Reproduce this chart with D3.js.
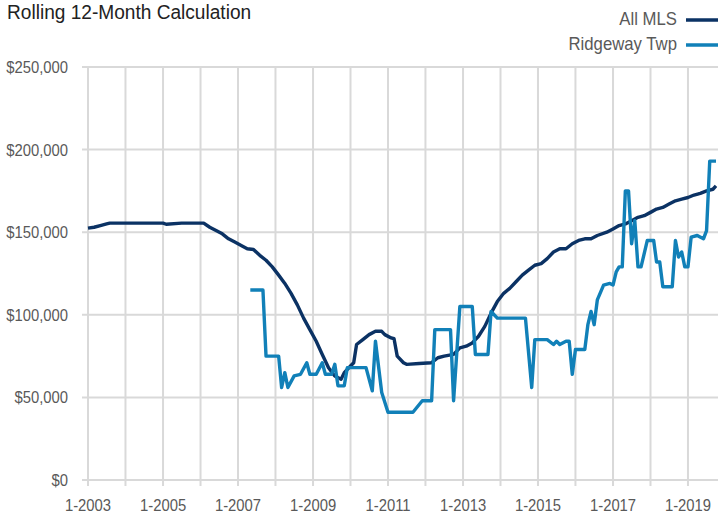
<!DOCTYPE html>
<html><head><meta charset="utf-8">
<script src="https://cdn.jsdelivr.net/npm/d3@7"></script>
<style>
html,body{margin:0;padding:0;background:#fff;}
svg{display:block;}
text{font-family:"Liberation Sans",Arial,Helvetica,sans-serif;}
</style></head>
<body>
<svg id="chart" width="718" height="515"></svg>
<script>
// ---- data (month index from Jan 2003, value in $) ----
const mlsMonths = [0,2,4,6,7,12,18,24,25,30,36,37,39,41,43,45,47,49,51,53,55,57,59,61,63,65,67,69,71,73,75,77,79,81,82,84,85,86,88,90,92,94,95,97,98,99,101,102,106,110,112,114,117,119,121,123,125,127,129,131,133,135,137,139,141,143,145,147,149,151,153,155,157,159,161,163,166,168,170,172,174,176,178,180,182,184,186,188,190,192,194,196,198,200,201];
const mlsValues = [152500,153000,154000,155000,155500,155500,155500,155500,154800,155500,155500,155500,153000,151000,149000,146000,144000,142000,140000,139500,136000,133000,129000,124000,119000,113000,106000,98000,91000,84000,76000,68000,63000,61000,65000,69000,71000,82000,85000,88000,90000,90000,88000,86000,85500,75000,71000,70000,70500,71000,74000,75000,76000,80000,81000,83000,87000,93000,101000,108000,113000,116000,120000,124000,127000,130000,131000,134000,138000,140000,140000,143000,145000,146000,146000,148000,150000,152000,154000,155000,157000,159000,160000,162000,164000,165000,167000,169000,170000,171000,172500,173500,175000,176000,178000];

const rwMonths = [52,56,57,61,62,63,64,66,68,70,71,73,75,76,78,79,80,82,83,89,91,92,94,96,104,107,110,111,116,117,119,123,124,128,129,131,140,142,143,147,149,150,151,153,154,155,156,159,160,161,162,163,165,167,168,169,170,171,172,173,174,175,176,177,179,181,182,183,184,187,188,189,190,191,192,193,195,197,198,199,201];
const rwValues = [115000,115000,75000,75000,56000,65000,56000,63000,64000,71000,64000,64000,71000,64000,64000,70000,57000,57000,68000,68000,54000,84000,53000,41000,41000,48000,48000,91000,91000,48000,105000,105000,76000,76000,102000,98000,98000,56000,85000,85000,82000,84000,82000,84000,84000,64000,79000,79000,94000,102000,94000,109000,118000,119000,118000,126000,129000,129000,175000,175000,143000,157000,129000,129000,145000,145000,132000,132000,117000,117000,145000,135000,138000,129000,129000,147000,148000,146000,151000,193000,193000];

const yTicks = [0,50000,100000,150000,200000,250000];
const xLabelYears = [2003,2005,2007,2009,2011,2013,2015,2017,2019];
const gridYears = d3.range(2003,2020);
const seriesNames = ["All MLS","Ridgeway Twp"];
const colors = ["#0b3264","#1180b8"];

const toDate = m => new Date(2003 + Math.floor(m/12), m%12, 1);
const mls = mlsMonths.map((m,i)=>({d:toDate(m), v:mlsValues[i]}));
const rw = rwMonths.map((m,i)=>({d:toDate(m), v:rwValues[i]}));

const svg = d3.select("#chart");
const x = d3.scaleTime().domain([toDate(0), toDate(201)]).range([88, 716]);
const y = d3.scaleLinear().domain([0,250000]).range([480, 67]);

const grid = svg.append("g");
grid.selectAll("line.h").data(yTicks).join("line")
  .attr("x1",82).attr("x2",718)
  .attr("y1",d=>y(d)).attr("y2",d=>y(d))
  .attr("stroke","#d9d9d9").attr("stroke-width",2);
grid.selectAll("line.v").data(gridYears).join("line")
  .attr("x1",d=>x(new Date(d,0,1))).attr("x2",d=>x(new Date(d,0,1)))
  .attr("y1",67).attr("y2",486)
  .attr("stroke","#d9d9d9").attr("stroke-width",2);

// y labels
svg.append("g").selectAll("text").data(yTicks).join("text")
  .attr("transform",d=>`translate(68,${y(d)+6}) scale(0.91,1)`)
  .attr("text-anchor","end").attr("font-size",16.3).attr("fill","#595959")
  .text(d=>"$"+d3.format(",")(d));
// x labels
svg.append("g").selectAll("text").data(xLabelYears).join("text")
  .attr("transform",d=>`translate(${x(new Date(d,0,1))},511) scale(0.91,1)`)
  .attr("text-anchor","middle").attr("font-size",16.3).attr("fill","#595959")
  .text(d=>"1-"+d);

const line = d3.line().x(d=>x(d.d)).y(d=>y(d.v));
svg.append("path").datum(mls).attr("d",line).attr("fill","none")
  .attr("stroke",colors[0]).attr("stroke-width",3.4).attr("stroke-linejoin","round");
svg.append("path").datum(rw).attr("d",line).attr("fill","none")
  .attr("stroke",colors[1]).attr("stroke-width",3.4).attr("stroke-linejoin","round");

// title
svg.append("text").attr("transform","translate(7,18.5) scale(0.91,1)")
  .attr("font-size",21).attr("fill","#222")
  .text("Rolling 12-Month Calculation");

// legend
const legY = [20, 45];
const lg = svg.append("g").selectAll("g").data(seriesNames).join("g")
  .attr("transform",(d,i)=>`translate(0,${legY[i]})`);
lg.append("text").attr("transform","translate(677,4.5) scale(0.93,1)").attr("text-anchor","end")
  .attr("font-size",18).attr("fill","#595959").text(d=>d);
lg.append("line").attr("x1",686).attr("x2",718).attr("y1",0).attr("y2",0)
  .attr("stroke",(d,i)=>colors[i]).attr("stroke-width",3.5);
</script>
</body></html>
